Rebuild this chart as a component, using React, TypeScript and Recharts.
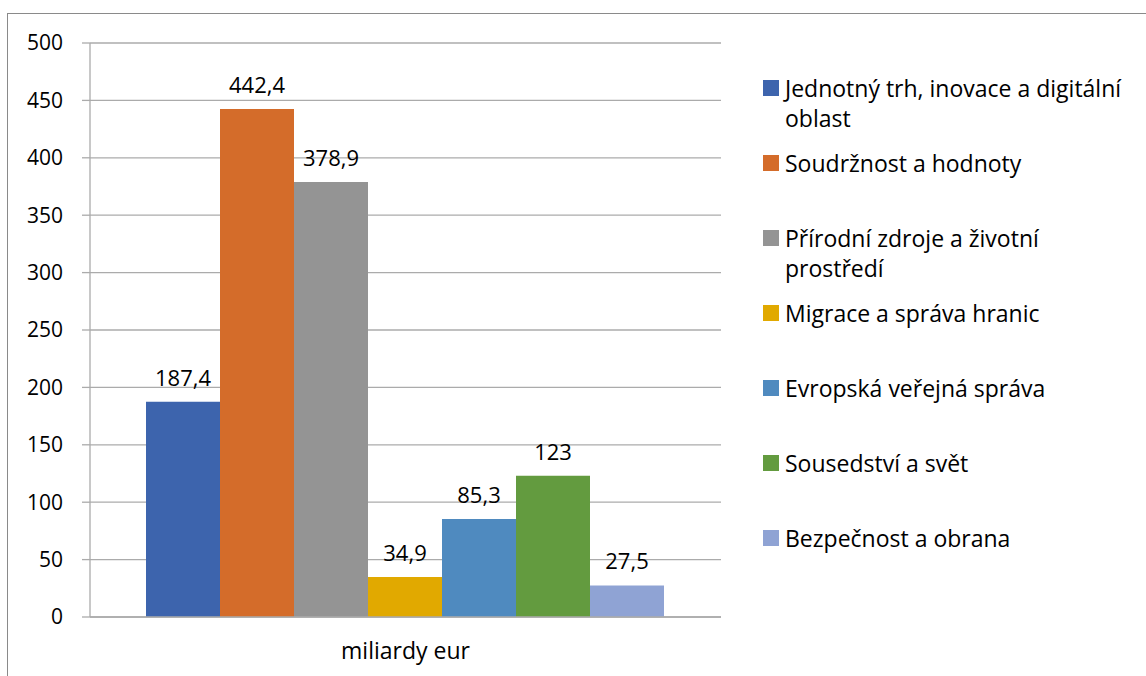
import { BarChart, Bar, XAxis, YAxis, CartesianGrid, Legend, LabelList } from 'recharts';

const CATEGORIES = ['miliardy eur'];

const SERIES_NAMES = [
  'Jednotný trh, inovace a digitální oblast',
  'Soudržnost a hodnoty',
  'Přírodní zdroje a životní prostředí',
  'Migrace a správa hranic',
  'Evropská veřejná správa',
  'Sousedství a svět',
  'Bezpečnost a obrana',
];

const SERIES_VALUES = [187.4, 442.4, 378.9, 34.9, 85.3, 123, 27.5];

const Y_TICKS = [0, 50, 100, 150, 200, 250, 300, 350, 400, 450, 500];

const COLORS = ['#3d64ad', '#d46c2a', '#949494', '#e1a900', '#4f8abf', '#639b3f', '#8fa3d4'];

const FONT = '"Open Sans", "Noto Sans", sans-serif';
const GRID = '#ababab';

const data = CATEGORIES.map((category) => {
  const row: Record<string, string | number> = { category };
  SERIES_VALUES.forEach((v, i) => {
    row[`s${i}`] = v;
  });
  return row;
});

const fmt = (v: number | string) => String(v).replace('.', ',');

function LegendContent({ payload }: any) {
  return (
    <div style={{ fontFamily: FONT, fontSize: 23, color: '#000' }}>
      {(payload || []).map((item: any) => (
        <div key={item.value} style={{ display: 'flex', height: 75, alignItems: 'flex-start' }}>
          <span
            style={{
              width: 16,
              height: 16,
              marginTop: 7,
              marginRight: 6,
              flex: '0 0 16px',
              background: item.color,
            }}
          />
          <span style={{ lineHeight: '30px', width: 348 }}>{item.value}</span>
        </div>
      ))}
    </div>
  );
}

export default function App() {
  return (
    <div style={{ position: 'absolute', left: 0, top: 0, width: 1146, height: 676, background: '#fff', overflow: 'hidden' }}>
      <div
        style={{
          position: 'absolute',
          left: 7,
          top: 13,
          width: 1160,
          height: 700,
          borderTop: '1.5px solid #8a8a8a',
          borderLeft: '1.5px solid #8a8a8a',
        }}
      />
      <BarChart
        width={1146}
        height={676}
        data={data}
        margin={{ top: 43, right: 45, bottom: 0, left: 0 }}
        barCategoryGap={56}
        barGap={0}
        style={{ position: 'absolute', left: 0, top: 0 }}
      >
        <CartesianGrid vertical={false} stroke={GRID} strokeWidth={1.3} />
        <XAxis
          xAxisId="edges"
          type="number"
          domain={[0, 1]}
          ticks={[0, 1]}
          height={0}
          axisLine={false}
          tickLine={{ stroke: GRID, strokeWidth: 1.3 }}
          tickSize={8}
          tickFormatter={() => ''}
        />
        <XAxis
          dataKey="category"
          height={59}
          axisLine={{ stroke: GRID, strokeWidth: 1.3 }}
          tickLine={false}
          tick={{ fill: '#000', fontSize: 23, fontFamily: FONT }}
          dy={18}
        />
        <YAxis
          width={90}
          domain={[0, 500]}
          ticks={Y_TICKS}
          interval={0}
          axisLine={{ stroke: GRID, strokeWidth: 1.3 }}
          tickLine={{ stroke: GRID, strokeWidth: 1.3 }}
          tickSize={8}
          tickMargin={19}
          tick={{ fill: '#000', fontSize: 21, fontFamily: FONT }}
        />
        <Legend
          layout="vertical"
          align="right"
          verticalAlign="top"
          itemSorter="dataKey"
          content={<LegendContent />}
          wrapperStyle={{ position: 'absolute', left: 763, top: 73, width: 380 }}
        />
        {SERIES_NAMES.map((name, i) => (
          <Bar key={name} dataKey={`s${i}`} name={name} fill={COLORS[i]} isAnimationActive={false}>
            <LabelList
              dataKey={`s${i}`}
              position="top"
              offset={16}
              formatter={fmt}
              style={{ fill: '#000', fontSize: 22, fontFamily: FONT }}
            />
          </Bar>
        ))}
      </BarChart>
    </div>
  );
}
